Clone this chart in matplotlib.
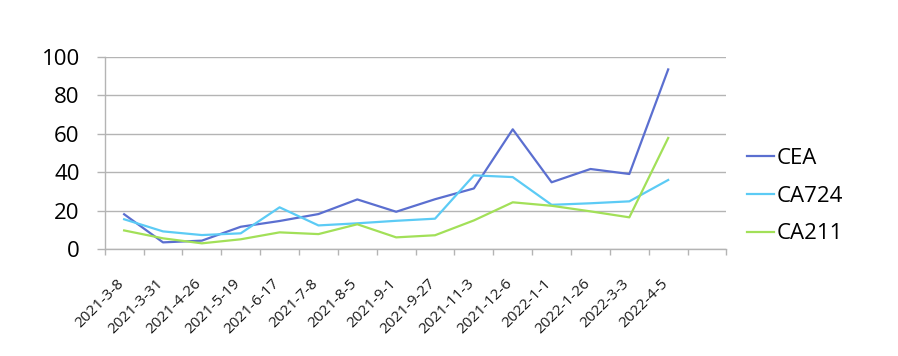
import numpy as np
import matplotlib
matplotlib.use('Agg')
import matplotlib.pyplot as plt
import matplotlib.transforms as mtransforms

dates = ['2021-3-8', '2021-3-31', '2021-4-26', '2021-5-19', '2021-6-17',
         '2021-7-8', '2021-8-5', '2021-9-1', '2021-9-27', '2021-11-3',
         '2021-12-6', '2022-1-1', '2022-1-26', '2022-3-3', '2022-4-5']
cea = [18.2, 3.6, 4.5, 11.7, 14.7, 18.3, 25.9, 19.5, 26.0, 31.6,
       62.3, 34.8, 41.7, 39.1, 93.4]
ca724 = [15.6, 9.3, 7.4, 8.3, 21.8, 12.4, 13.5, 14.8, 15.9, 38.4,
         37.5, 23.1, 23.9, 24.9, 36.0]
ca211 = [9.8, 5.7, 3.1, 5.2, 8.8, 7.9, 13.0, 6.2, 7.3, 15.0,
         24.4, 22.6, 19.7, 16.6, 57.8]
n_slots = 16  # axis has one empty category at the end

plt.rcParams['font.family'] = ['Open Sans', 'DejaVu Sans']

fig = plt.figure(figsize=(8.98, 3.56), dpi=100)
ax = fig.add_axes([0.1166, 0.2997, 0.6924, 0.5410])

x = np.arange(len(dates))
ax.plot(x, cea, color='#5b6fd0', lw=1.6, label='CEA')
ax.plot(x, ca724, color='#5ccbf5', lw=1.6, label='CA724')
ax.plot(x, ca211, color='#a2e058', lw=1.6, label='CA211')

ax.set_xlim(-0.5, n_slots - 0.5)
ax.set_ylim(0, 100)
ax.set_yticks(np.arange(0, 101, 20))
ax.tick_params(axis='y', labelsize=16, length=6, width=1, color='#b4b4b4',
               pad=12, labelcolor='black')
ax.yaxis.grid(True, color='#b4b4b4', lw=1)
ax.set_axisbelow(True)

# category boundaries get tick marks, labels sit at centres
ax.set_xticks(np.arange(n_slots + 1) - 0.5)
ax.set_xticklabels([])
ax.set_xticks(x, minor=True)
ax.tick_params(axis='x', which='major', length=4, width=1, color='#b4b4b4')
ax.tick_params(axis='x', which='minor', length=0, pad=0)
ax.set_xticklabels(dates, minor=True, rotation=45, ha='right', va='top',
                   fontsize=11, color='#1a1a1a')

fig.canvas.draw()
offset = mtransforms.ScaledTranslation(0.03, -0.27, fig.dpi_scale_trans)
for tick in ax.xaxis.get_minor_ticks():
    tick.label1.set_transform(tick.label1.get_transform() + offset)

for side in ['top', 'right']:
    ax.spines[side].set_visible(False)
for side in ['left', 'bottom']:
    ax.spines[side].set_color('#b4b4b4')
    ax.spines[side].set_linewidth(1)

fig.legend(loc='center left', bbox_to_anchor=(747 / 898, 1 - 196 / 356),
           frameon=False, fontsize=16, handlelength=1.2, handletextpad=0.15,
           labelspacing=0.76, borderpad=0, borderaxespad=0)

fig.savefig('out.png', dpi=100)
